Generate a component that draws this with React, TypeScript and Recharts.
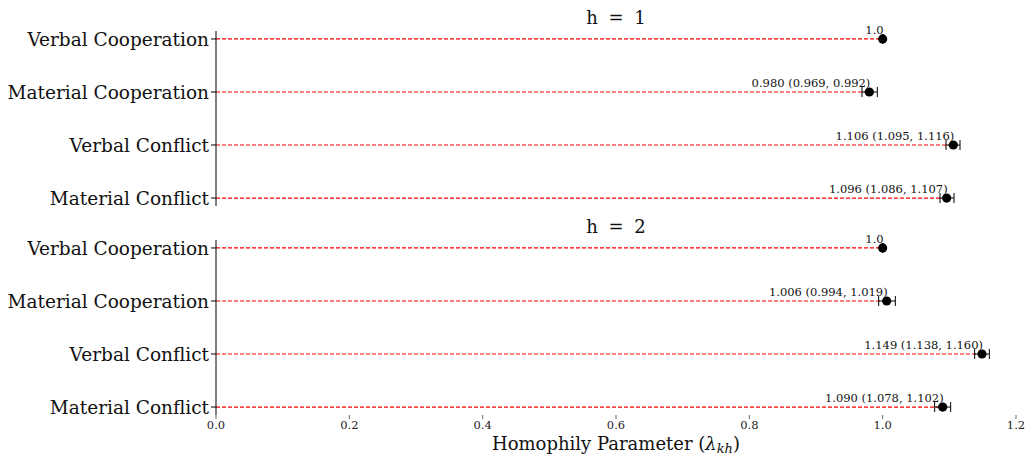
import React from "react";
import {
  ErrorBar,
  ReferenceLine,
  Scatter,
  ScatterChart,
  XAxis,
  YAxis,
} from "recharts";

const categories = [
  "Verbal Cooperation",
  "Material Cooperation",
  "Verbal Conflict",
  "Material Conflict",
];

const h1Estimate = [1.0, 0.98, 1.106, 1.096];
const h1Lower = [1.0, 0.969, 1.095, 1.086];
const h1Upper = [1.0, 0.992, 1.116, 1.107];

const h2Estimate = [1.0, 1.006, 1.149, 1.09];
const h2Lower = [1.0, 0.994, 1.138, 1.078];
const h2Upper = [1.0, 1.019, 1.16, 1.102];

const xTicks = [0, 0.2, 0.4, 0.6, 0.8, 1.0, 1.2];

const FONT = "DejaVu Serif";

function buildRows(est: number[], lo: number[], hi: number[]) {
  return categories.map((name, i) => ({
    name,
    idx: i,
    value: est[i],
    err: [est[i] - lo[i], hi[i] - est[i]],
    label:
      lo[i] === hi[i]
        ? est[i].toFixed(1)
        : `${est[i].toFixed(3)} (${lo[i].toFixed(3)}, ${hi[i].toFixed(3)})`,
  }));
}

const DotWithLabel = (props: any) => {
  const { cx, cy, payload } = props;
  return (
    <g>
      <circle cx={cx} cy={cy} r={4.6} fill="#000" />
      <text
        x={cx + 1}
        y={cy - 5}
        textAnchor="end"
        fontFamily={FONT}
        fontSize={11.5}
        fill="#111"
      >
        {payload.label}
      </text>
    </g>
  );
};

const AxisTitle = (props: any) => {
  const { viewBox } = props;
  const cx = viewBox.x + viewBox.width / 2;
  return (
    <text
      x={cx}
      y={viewBox.y + 35}
      textAnchor="middle"
      fontFamily={FONT}
      fontSize={18}
      fill="#111"
    >
      Homophily Parameter (
      <tspan fontStyle="italic">λ</tspan>
      <tspan fontStyle="italic" fontSize={13} dy={3}>
        kh
      </tspan>
      <tspan dy={-3}>)</tspan>
    </text>
  );
};

function Panel({
  rows,
  height,
  top,
  bottomAxis,
}: {
  rows: ReturnType<typeof buildRows>;
  height: number;
  top: number;
  bottomAxis: boolean;
}) {
  return (
    <ScatterChart
      width={1026}
      height={height}
      margin={{ top, right: 10, bottom: 0, left: 0 }}
    >
      <XAxis
        type="number"
        dataKey="value"
        domain={[0, 1.2]}
        ticks={xTicks}
        allowDataOverflow
        axisLine={false}
        tickLine={{ stroke: "#666" }}
        tickSize={4}
        height={bottomAxis ? 40 : 16}
        tick={
          bottomAxis
            ? { fontFamily: FONT, fontSize: 11.5, fill: "#222" }
            : false
        }
        tickFormatter={(v: number) => v.toFixed(1)}
        label={bottomAxis ? <AxisTitle /> : undefined}
      />
      <YAxis
        type="number"
        dataKey="idx"
        domain={[-0.15, 3.15]}
        ticks={[0, 1, 2, 3]}
        reversed
        width={216}
        axisLine={{ stroke: "#000" }}
        tickLine={{ stroke: "#000" }}
        tickSize={5}
        tickMargin={2}
        tick={{ fontFamily: FONT, fontSize: 18.5, fill: "#111" }}
        tickFormatter={(v: number) => categories[v] ?? ""}
      />
      {rows.map((r) => (
        <ReferenceLine
          key={r.name}
          segment={[
            { x: 0, y: r.idx },
            { x: r.value, y: r.idx },
          ]}
          stroke="#f00"
          strokeDasharray="4 2"
          strokeWidth={1.2}
        />
      ))}
      <Scatter data={rows} shape={<DotWithLabel />} isAnimationActive={false}>
        <ErrorBar
          dataKey="err"
          direction="x"
          width={5}
          stroke="#000"
          strokeWidth={1}
          isAnimationActive={false}
        />
      </Scatter>
    </ScatterChart>
  );
}

const titleStyle: React.CSSProperties = {
  position: "absolute",
  left: 216,
  width: 800,
  textAlign: "center",
  fontFamily: FONT,
  fontSize: 18,
  wordSpacing: 5,
  color: "#111",
  lineHeight: "20px",
};

export default function App() {
  const rows1 = buildRows(h1Estimate, h1Lower, h1Upper);
  const rows2 = buildRows(h2Estimate, h2Lower, h2Upper);
  return (
    <div
      style={{
        position: "absolute",
        left: 0,
        top: 0,
        width: 1026,
        height: 455,
        background: "#fff",
      }}
    >
      <div style={{ position: "absolute", left: 0, top: 0 }}>
        <Panel rows={rows1} height={222} top={31} bottomAxis={false} />
      </div>
      <div style={{ position: "absolute", left: 0, top: 222 }}>
        <Panel rows={rows2} height={233} top={18} bottomAxis={true} />
      </div>
      <div style={{ ...titleStyle, top: 8 }}>h = 1</div>
      <div style={{ ...titleStyle, top: 217 }}>h = 2</div>
    </div>
  );
}
